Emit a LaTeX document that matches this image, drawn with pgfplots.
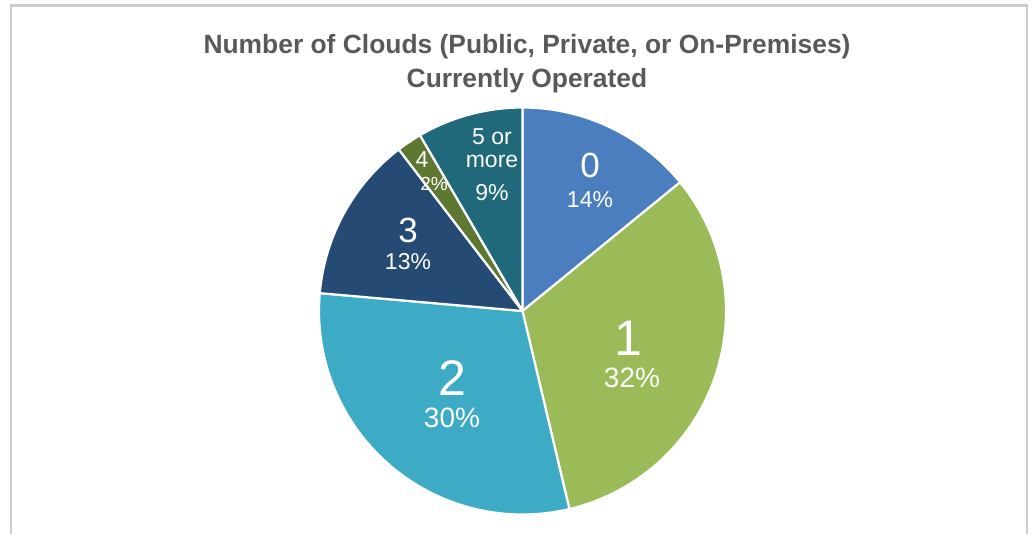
\documentclass[border=0pt]{standalone}
\usepackage{pgfplots}
\usepackage{pgfplotstable}
\pgfplotsset{compat=1.18}
\usepackage{fontspec}
\setmainfont{Liberation Sans}

\definecolor{c0}{HTML}{4A7EBF}
\definecolor{c1}{HTML}{9BBB59}
\definecolor{c2}{HTML}{3DAAC6}
\definecolor{c3}{HTML}{254A73}
\definecolor{c4}{HTML}{5E7731}
\definecolor{c5}{HTML}{1F697A}
\definecolor{titlegray}{HTML}{595959}
\definecolor{framegray}{HTML}{CCCCCC}

\pgfplotstableread{
id value
0 14.1
1 32.2
2 30.1
3 13.2
4 2.0
5 8.4
}\piedata

% cumulative angles (degrees, clockwise from top)
\xdef\angA{0}
\pgfplotstablegetelem{0}{value}\of\piedata \pgfmathsetmacro\angB{\angA+3.6*\pgfplotsretval}
\pgfplotstablegetelem{1}{value}\of\piedata \pgfmathsetmacro\angC{\angB+3.6*\pgfplotsretval}
\pgfplotstablegetelem{2}{value}\of\piedata \pgfmathsetmacro\angD{\angC+3.6*\pgfplotsretval}
\pgfplotstablegetelem{3}{value}\of\piedata \pgfmathsetmacro\angE{\angD+3.6*\pgfplotsretval}
\pgfplotstablegetelem{4}{value}\of\piedata \pgfmathsetmacro\angF{\angE+3.6*\pgfplotsretval}
\pgfplotstablegetelem{5}{value}\of\piedata \pgfmathsetmacro\angG{\angF+3.6*\pgfplotsretval}

\newcommand\R{203.5}

\begin{document}
\begin{tikzpicture}
\begin{axis}[
  width=516pt, height=267pt, scale only axis,
  xmin=-522.5, xmax=509.5, ymin=-223, ymax=311,
  hide axis, clip=false,
  every axis plot/.append style={draw=white, line width=1.1pt, line join=round},
]
\path (rel axis cs:0,0) rectangle (rel axis cs:1,1);
% frame
\draw[framegray, line width=1.3pt] (axis cs:-511.5,-223) -- (axis cs:-511.5,305.5) -- (axis cs:504.5,305.5) -- (axis cs:504.5,-223);

\addplot[fill=c0, domain=\angA:\angB, samples=40] ({\R*sin(x)},{\R*cos(x)}) -- (axis cs:0,0) -- cycle;
\addplot[fill=c1, domain=\angB:\angC, samples=80] ({\R*sin(x)},{\R*cos(x)}) -- (axis cs:0,0) -- cycle;
\addplot[fill=c2, domain=\angC:\angD, samples=80] ({\R*sin(x)},{\R*cos(x)}) -- (axis cs:0,0) -- cycle;
\addplot[fill=c3, domain=\angD:\angE, samples=40] ({\R*sin(x)},{\R*cos(x)}) -- (axis cs:0,0) -- cycle;
\addplot[fill=c4, domain=\angE:\angF, samples=10] ({\R*sin(x)},{\R*cos(x)}) -- (axis cs:0,0) -- cycle;
\addplot[fill=c5, domain=\angF:\angG, samples=30] ({\R*sin(x)},{\R*cos(x)}) -- (axis cs:0,0) -- cycle;

% title
\node[titlegray, font=\bfseries\fontsize{13.2}{17}\selectfont, align=center] at (axis cs:4.5,247.5)
  {Number of Clouds (Public, Private, or On-Premises)\\Currently Operated};

% labels
\begin{scope}[every node/.style={text=white, inner sep=0pt}]
\node[font=\fontsize{17.5}{18}\selectfont] at (axis cs:67.5,146) {0};
\node[font=\fontsize{11.5}{12}\selectfont] at (axis cs:67.5,111) {14\%};
\node[font=\fontsize{25}{26}\selectfont] at (axis cs:105.5,-27) {1};
\node[font=\fontsize{14}{15}\selectfont] at (axis cs:109.5,-67) {32\%};
\node[font=\fontsize{25}{26}\selectfont] at (axis cs:-70.5,-67) {2};
\node[font=\fontsize{14}{15}\selectfont] at (axis cs:-70.5,-107) {30\%};
\node[font=\fontsize{17.5}{18}\selectfont] at (axis cs:-114.5,81) {3};
\node[font=\fontsize{11.5}{12}\selectfont] at (axis cs:-114.5,49) {13\%};
\node[font=\fontsize{11.5}{12}\selectfont] at (axis cs:-100.5,151) {4};
\node[font=\fontsize{9.5}{10}\selectfont] at (axis cs:-88.5,127) {2\%};
\node[font=\fontsize{11.5}{12}\selectfont] at (axis cs:-30.5,174) {5 or};
\node[font=\fontsize{11.5}{12}\selectfont] at (axis cs:-30.5,150) {more};
\node[font=\fontsize{11.5}{12}\selectfont] at (axis cs:-30.5,118) {9\%};
\end{scope}
\end{axis}
\end{tikzpicture}
\end{document}
